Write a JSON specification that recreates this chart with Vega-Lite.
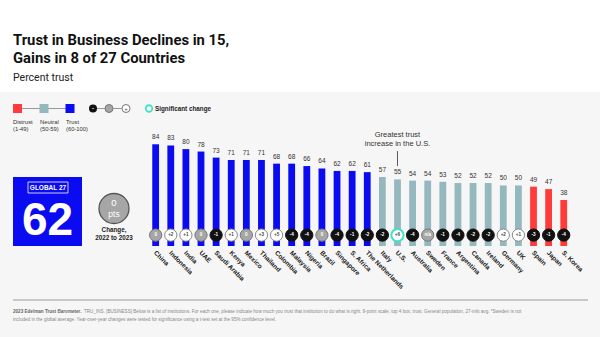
{
  "$schema": "https://vega.github.io/schema/vega-lite/v6.json",
  "autosize": "none",
  "width": 600,
  "height": 245,
  "padding": {"left": 0, "top": 92, "right": 0, "bottom": 0},
  "background": "#ffffff",
  "config": {"view": {"fill": "#f6f6f6", "stroke": null}, "font": "Liberation Sans"},
  "title": {
    "text": ["Trust in Business Declines in 15,", "Gains in 8 of 27 Countries"],
    "subtitle": "Percent trust",
    "anchor": "start", "frame": "group", "dx": 13, "offset": 9,
    "font": "Roboto", "fontSize": 14.8, "fontWeight": "bold", "lineHeight": 17.5, "color": "#111111",
    "subtitleFont": "Roboto", "subtitleFontSize": 10.5, "subtitleColor": "#222222", "subtitlePadding": 7
  },
  "data": {"values": [
    {"country": "China", "trust": 84, "level": "Trust", "change": "0", "dir": "none", "sig": false},
    {"country": "Indonesia", "trust": 83, "level": "Trust", "change": "+2", "dir": "gain", "sig": false},
    {"country": "India", "trust": 80, "level": "Trust", "change": "+1", "dir": "gain", "sig": false},
    {"country": "UAE", "trust": 78, "level": "Trust", "change": "0", "dir": "none", "sig": false},
    {"country": "Saudi Arabia", "trust": 73, "level": "Trust", "change": "-1", "dir": "decline", "sig": false},
    {"country": "Kenya", "trust": 71, "level": "Trust", "change": "+1", "dir": "gain", "sig": false},
    {"country": "Mexico", "trust": 71, "level": "Trust", "change": "0", "dir": "none", "sig": false},
    {"country": "Thailand", "trust": 71, "level": "Trust", "change": "+3", "dir": "gain", "sig": false},
    {"country": "Colombia", "trust": 68, "level": "Trust", "change": "+5", "dir": "gain", "sig": false},
    {"country": "Malaysia", "trust": 68, "level": "Trust", "change": "-4", "dir": "decline", "sig": false},
    {"country": "Nigeria", "trust": 66, "level": "Trust", "change": "-4", "dir": "decline", "sig": false},
    {"country": "Brazil", "trust": 64, "level": "Trust", "change": "0", "dir": "none", "sig": false},
    {"country": "Singapore", "trust": 62, "level": "Trust", "change": "-4", "dir": "decline", "sig": false},
    {"country": "S. Africa", "trust": 62, "level": "Trust", "change": "-1", "dir": "decline", "sig": false},
    {"country": "The Netherlands", "trust": 61, "level": "Trust", "change": "-2", "dir": "decline", "sig": false},
    {"country": "Italy", "trust": 57, "level": "Neutral", "change": "-2", "dir": "decline", "sig": false},
    {"country": "U.S.", "trust": 55, "level": "Neutral", "change": "+6", "dir": "gain", "sig": true},
    {"country": "Australia", "trust": 54, "level": "Neutral", "change": "-4", "dir": "decline", "sig": false},
    {"country": "Sweden", "trust": 54, "level": "Neutral", "change": "n/a", "dir": "none", "sig": false},
    {"country": "France", "trust": 53, "level": "Neutral", "change": "-1", "dir": "decline", "sig": false},
    {"country": "Argentina", "trust": 52, "level": "Neutral", "change": "-4", "dir": "decline", "sig": false},
    {"country": "Canada", "trust": 52, "level": "Neutral", "change": "-2", "dir": "decline", "sig": false},
    {"country": "Ireland", "trust": 52, "level": "Neutral", "change": "-2", "dir": "decline", "sig": false},
    {"country": "Germany", "trust": 50, "level": "Neutral", "change": "+2", "dir": "gain", "sig": false},
    {"country": "UK", "trust": 50, "level": "Neutral", "change": "+1", "dir": "gain", "sig": false},
    {"country": "Spain", "trust": 49, "level": "Distrust", "change": "-3", "dir": "decline", "sig": false},
    {"country": "Japan", "trust": 47, "level": "Distrust", "change": "-1", "dir": "decline", "sig": false},
    {"country": "S. Korea", "trust": 38, "level": "Distrust", "change": "-4", "dir": "decline", "sig": false}
  ]},
  "encoding": {
    "x": {"field": "country", "type": "nominal", "sort": null, "axis": null,
          "scale": {"range": [148.1, 571.3], "paddingInner": 0.55, "paddingOuter": 0.275}}
  },
  "layer": [
    {
      "mark": {"type": "bar"},
      "encoding": {
        "y": {"field": "trust", "type": "quantitative", "axis": null,
              "scale": {"domain": [0, 100], "range": [154, 32.9], "nice": false, "zero": false}},
        "y2": {"datum": 0},
        "color": {"field": "level", "type": "nominal", "legend": null,
                  "scale": {"domain": ["Distrust", "Neutral", "Trust"], "range": ["#ff3b3b", "#94b8bd", "#0b0bf2"]}}
      }
    },
    {
      "mark": {"type": "text", "dy": -5, "fontSize": 6.5, "color": "#333333", "baseline": "alphabetic"},
      "encoding": {
        "y": {"field": "trust", "type": "quantitative"},
        "text": {"field": "trust"}
      }
    },
    {
      "mark": {"type": "point", "shape": "circle", "filled": true, "size": 150, "opacity": 1},
      "encoding": {
        "y": {"datum": 9},
        "fill": {"field": "dir", "type": "nominal", "legend": null,
                 "scale": {"domain": ["decline", "none", "gain"], "range": ["#111111", "#a6a6a6", "#ffffff"]}},
        "stroke": {"condition": {"test": "datum.sig", "value": "#3fe3c8"},
                   "field": "dir", "type": "nominal", "legend": null,
                   "scale": {"domain": ["decline", "none", "gain"], "range": ["#111111", "#777777", "#8a8a8a"]}},
        "strokeWidth": {"condition": {"test": "datum.sig", "value": 2}, "value": 1}
      }
    },
    {
      "mark": {"type": "text", "fontSize": 4.6, "baseline": "middle", "fontWeight": "bold"},
      "encoding": {
        "y": {"datum": 9},
        "text": {"field": "change"},
        "color": {"condition": {"test": "datum.dir === 'gain'", "value": "#444444"}, "value": "#ffffff"}
      }
    },
    {
      "mark": {"type": "text", "angle": 45, "align": "left", "baseline": "middle", "fontSize": 6.5, "fontWeight": "bold", "color": "#222222", "dx": -1},
      "encoding": {
        "y": {"datum": -5.5},
        "text": {"field": "country"}
      }
    },
    {
      "transform": [{"filter": "datum.country === 'U.S.'"}],
      "mark": {"type": "text", "fontSize": 7.5, "color": "#333333", "baseline": "alphabetic", "lineHeight": 8.5},
      "encoding": {
        "y": {"datum": 90},
        "text": {"value": ["Greatest trust", "increase in the U.S."]}
      }
    },
    {
      "transform": [{"filter": "datum.country === 'U.S.'"}],
      "mark": {"type": "rule", "color": "#333333", "strokeWidth": 0.8},
      "encoding": {
        "y": {"datum": 78.4},
        "y2": {"datum": 66}
      }
    },
    {
      "data": {"values": [{"label": "GLOBAL 27", "trust": 62, "change": "0"}]},
      "layer": [
        {"mark": {"type": "rect", "color": "#0b0bf2"},
         "encoding": {"x": {"value": 13}, "x2": {"value": 82}, "y": {"value": 85}, "y2": {"value": 154}}},
        {"mark": {"type": "rect", "fill": null, "stroke": "#ffffff", "strokeWidth": 0.8},
         "encoding": {"x": {"value": 28}, "x2": {"value": 68}, "y": {"value": 90}, "y2": {"value": 101}}},
        {"mark": {"type": "text", "color": "#ffffff", "fontSize": 6.5, "fontWeight": "bold", "baseline": "middle"},
         "encoding": {"x": {"value": 48}, "y": {"value": 95.7}, "text": {"field": "label"}}},
        {"mark": {"type": "text", "color": "#ffffff", "fontSize": 46, "fontWeight": "bold", "baseline": "alphabetic"},
         "encoding": {"x": {"value": 47.5}, "y": {"value": 143}, "text": {"field": "trust"}}},
        {"mark": {"type": "point", "shape": "circle", "filled": true, "size": 900, "fill": "#a6a6a6", "stroke": "#555555", "strokeWidth": 1.3, "opacity": 1},
         "encoding": {"x": {"value": 114}, "y": {"value": 116.5}}},
        {"mark": {"type": "text", "color": "#ffffff", "fontSize": 9.5, "baseline": "middle"},
         "encoding": {"x": {"value": 114}, "y": {"value": 111}, "text": {"field": "change"}}},
        {"mark": {"type": "text", "color": "#ffffff", "fontSize": 8.5, "baseline": "middle"},
         "encoding": {"x": {"value": 114}, "y": {"value": 122}, "text": {"value": "pts"}}},
        {"mark": {"type": "text", "color": "#222222", "fontSize": 6.3, "fontWeight": "bold", "baseline": "alphabetic", "lineHeight": 8},
         "encoding": {"x": {"value": 114}, "y": {"value": 140}, "text": {"value": ["Change,", "2022 to 2023"]}}}
      ]
    },
    {
      "data": {"values": [{"item": "legend"}]},
      "layer": [
        {"mark": {"type": "rule", "color": "#999999", "strokeWidth": 1},
         "encoding": {"x": {"value": 17.5}, "x2": {"value": 70}, "y": {"value": 16.5}}},
        {"mark": {"type": "rule", "color": "#999999", "strokeWidth": 1},
         "encoding": {"x": {"value": 93}, "x2": {"value": 126}, "y": {"value": 16.5}}},
        {"mark": {"type": "square", "size": 81, "color": "#ff3b3b", "opacity": 1},
         "encoding": {"x": {"value": 17.5}, "y": {"value": 16.5}}},
        {"mark": {"type": "square", "size": 81, "color": "#94b8bd", "opacity": 1},
         "encoding": {"x": {"value": 44}, "y": {"value": 16.5}}},
        {"mark": {"type": "square", "size": 81, "color": "#0b0bf2", "opacity": 1},
         "encoding": {"x": {"value": 70}, "y": {"value": 16.5}}},
        {"mark": {"type": "text", "fontSize": 5.8, "color": "#333333", "align": "left", "lineHeight": 7},
         "encoding": {"x": {"value": 13}, "y": {"value": 29.5}, "text": {"value": ["Distrust", "(1-49)"]}}},
        {"mark": {"type": "text", "fontSize": 5.8, "color": "#333333", "align": "left", "lineHeight": 7},
         "encoding": {"x": {"value": 40}, "y": {"value": 29.5}, "text": {"value": ["Neutral", "(50-59)"]}}},
        {"mark": {"type": "text", "fontSize": 5.8, "color": "#333333", "align": "left", "lineHeight": 7},
         "encoding": {"x": {"value": 66}, "y": {"value": 29.5}, "text": {"value": ["Trust", "(60-100)"]}}},
        {"mark": {"type": "circle", "size": 64, "color": "#111111", "opacity": 1},
         "encoding": {"x": {"value": 93}, "y": {"value": 16.5}}},
        {"mark": {"type": "circle", "size": 64, "fill": "#a6a6a6", "stroke": "#777777", "strokeWidth": 1, "opacity": 1},
         "encoding": {"x": {"value": 109}, "y": {"value": 16.5}}},
        {"mark": {"type": "circle", "size": 64, "fill": "#ffffff", "stroke": "#777777", "strokeWidth": 1, "opacity": 1},
         "encoding": {"x": {"value": 126}, "y": {"value": 16.5}}},
        {"mark": {"type": "text", "fontSize": 6, "color": "#ffffff", "baseline": "middle", "fontWeight": "bold"},
         "encoding": {"x": {"value": 93}, "y": {"value": 16.3}, "text": {"value": "-"}}},
        {"mark": {"type": "text", "fontSize": 6, "color": "#555555", "baseline": "middle"},
         "encoding": {"x": {"value": 126}, "y": {"value": 16.5}, "text": {"value": "+"}}},
        {"mark": {"type": "circle", "size": 42, "fill": "#ffffff", "stroke": "#3fe3c8", "strokeWidth": 1.8, "opacity": 1},
         "encoding": {"x": {"value": 149}, "y": {"value": 16.5}}},
        {"mark": {"type": "text", "fontSize": 6.3, "fontWeight": "bold", "color": "#222222", "align": "left", "baseline": "middle"},
         "encoding": {"x": {"value": 155}, "y": {"value": 16.8}, "text": {"value": "Significant change"}}}
      ]
    },
    {
      "data": {"values": [
        {"bold": "2023 Edelman Trust Barometer.", "line1": "TRU_INS. [BUSINESS] Below is a list of institutions. For each one, please indicate how much you trust that institution to do what is right. 9-point scale; top 4 box, trust. General population, 27-mkt avg. *Sweden is not", "line2": "included in the global average. Year-over-year changes were tested for significance using a t-test set at the 95% confidence level."}
      ]},
      "layer": [
        {"mark": {"type": "rule", "color": "#999999", "strokeWidth": 1},
         "encoding": {"x": {"value": 13}, "x2": {"value": 588}, "y": {"value": 208}}},
        {"mark": {"type": "text", "fontSize": 4.6, "fontWeight": "bold", "color": "#666666", "align": "left"},
         "encoding": {"x": {"value": 13}, "y": {"value": 219.5}, "text": {"field": "bold"}}},
        {"mark": {"type": "text", "fontSize": 4.6, "color": "#888888", "align": "left"},
         "encoding": {"x": {"value": 84}, "y": {"value": 219.5}, "text": {"field": "line1"}}},
        {"mark": {"type": "text", "fontSize": 4.6, "color": "#888888", "align": "left"},
         "encoding": {"x": {"value": 13}, "y": {"value": 227.5}, "text": {"field": "line2"}}}
      ]
    }
  ]
}
